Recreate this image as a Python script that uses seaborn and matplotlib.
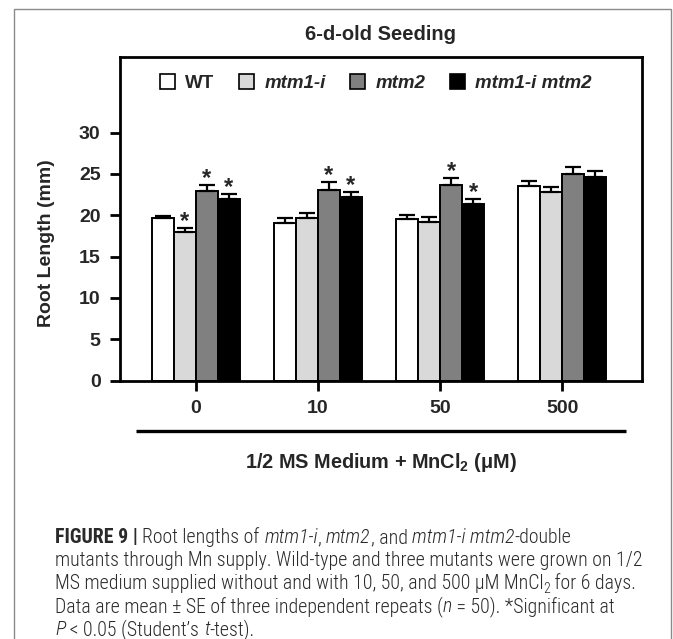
import matplotlib
matplotlib.use("Agg")
import matplotlib.pyplot as plt
import seaborn as sns
import pandas as pd
import numpy as np
from matplotlib import font_manager as fm
from matplotlib.patches import Patch, Rectangle
from matplotlib.lines import Line2D

# ---------------- data ----------------
concentrations = ["0", "10", "50", "500"]
genotypes = ["WT", "mtm1-i", "mtm2", "mtm1-i mtm2"]
wt_mean = [19.7, 19.1, 19.5, 23.5]
wt_se = [0.25, 0.6, 0.5, 0.6]
mtm1_mean = [18.0, 19.7, 19.2, 22.8]
mtm1_se = [0.4, 0.55, 0.6, 0.6]
mtm2_mean = [22.9, 23.1, 23.7, 25.0]
mtm2_se = [0.7, 0.9, 0.8, 0.8]
dbl_mean = [21.9, 22.2, 21.4, 24.6]
dbl_se = [0.7, 0.65, 0.5, 0.7]
wt_sig = [False, False, False, False]
mtm1_sig = [True, False, False, False]
mtm2_sig = [True, True, True, False]
dbl_sig = [True, True, True, False]
y_ticks = [0, 5, 10, 15, 20, 25, 30]
title = "6-d-old Seeding"
y_label = "Root Length (mm)"
x_label = r"1/2 MS Medium + MnCl$_\mathbf{2}$ (μM)"

means = [wt_mean, mtm1_mean, mtm2_mean, dbl_mean]
ses = [wt_se, mtm1_se, mtm2_se, dbl_se]
sigs = [wt_sig, mtm1_sig, mtm2_sig, dbl_sig]
colors = ["#ffffff", "#d9d9d9", "#808080", "#000000"]

rows = []
for g, m in zip(genotypes, means):
    for c, v in zip(concentrations, m):
        rows.append({"conc": c, "genotype": g, "length": v})
df = pd.DataFrame(rows)

# ---------------- style ----------------
sns.set_theme(style="white")
plt.rcParams["font.family"] = ["Liberation Sans", "DejaVu Sans"]
plt.rcParams["mathtext.fontset"] = "custom"
plt.rcParams["mathtext.bf"] = "Liberation Sans:bold"
plt.rcParams["mathtext.rm"] = "Liberation Sans"

_names = {f.name for f in fm.fontManager.ttflist}
NARROW = "Liberation Sans"
for _n in ["Liberation Sans Narrow", "Arial Narrow", "Roboto Condensed",
           "Open Sans Condensed", "Nimbus Sans Narrow"]:
    if _n in _names:
        NARROW = _n
        break

W, H = 673, 639
fig = plt.figure(figsize=(W / 100, H / 100), dpi=100)
fig.patch.set_facecolor("white")
renderer = fig.canvas.get_renderer()

ax_l, ax_r, ax_t, ax_b = 120, 641.7, 57.3, 380.5
ax = fig.add_axes([ax_l / W, 1 - ax_b / H, (ax_r - ax_l) / W, (ax_b - ax_t) / H])

sns.barplot(data=df, x="conc", y="length", hue="genotype",
            order=concentrations, hue_order=genotypes, palette=colors,
            edgecolor="black", linewidth=1.4, width=0.72, errorbar=None,
            saturation=1, legend=False, ax=ax)

for cont, se, sig in zip(ax.containers, ses, sigs):
    xs = [b.get_x() + b.get_width() / 2 for b in cont]
    hs = [b.get_height() for b in cont]
    ax.errorbar(xs, hs, yerr=[np.zeros(len(se)), se], fmt="none",
                ecolor="black", elinewidth=1.6, capsize=6, capthick=1.6, zorder=1)
    for x, h, e, s in zip(xs, hs, se, sig):
        if s:
            ax.annotate("*", xy=(x, h + e), xytext=(0, 0), textcoords="offset points",
                        ha="center", va="baseline", fontsize=17, fontweight="bold")

ax.set_xlim(-0.62, 3.65)
ax.set_ylim(0, 39.1)
ax.set_yticks(y_ticks)
ax.set_yticklabels([str(t) for t in y_ticks])
for s in ax.spines.values():
    s.set_visible(True)
    s.set_linewidth(2.0)
    s.set_color("black")
ax.tick_params(axis="both", direction="out", length=7, width=2.0, color="black",
               labelsize=14, pad=7, bottom=True, left=True)
for lab in ax.get_xticklabels() + ax.get_yticklabels():
    lab.set_fontweight("bold")

# axis labels
ax.set_ylabel(y_label, fontsize=14, fontweight="bold", va="center")
ax.yaxis.set_label_coords((47 - ax_l) / (ax_r - ax_l), (ax_b - 243) / (ax_b - ax_t))

ax.set_xlabel(x_label, fontsize=10, fontweight="bold", va="center")
ax.xaxis.set_label_coords(0.5, (ax_b - 462) / (ax_b - ax_t))
_w = ax.xaxis.label.get_window_extent(renderer).width
ax.xaxis.label.set_fontsize(10 * 272 / _w)

# decorative line under category labels
ax.add_line(Line2D([(136 - ax_l) / (ax_r - ax_l), (626 - ax_l) / (ax_r - ax_l)],
                   [(ax_b - 431) / (ax_b - ax_t)] * 2, transform=ax.transAxes,
                   color="black", lw=2.4, clip_on=False, solid_capstyle="butt"))

# legend
handles = [Patch(facecolor=c, edgecolor="black", linewidth=1.2) for c in colors]
leg = ax.legend(handles, genotypes, ncol=4, frameon=False, loc="center",
                bbox_to_anchor=(0.49, (ax_b - 83) / (ax_b - ax_t)),
                fontsize=13.5, handlelength=0.8, handleheight=0.8,
                handletextpad=0.55, columnspacing=1.3, borderaxespad=0)
for i, t in enumerate(leg.get_texts()):
    t.set_fontweight("bold")
    if i > 0:
        t.set_fontstyle("italic")

fig.text((ax_l + ax_r) / 2 / W, 1 - 35 / H, title, ha="center", va="center",
         fontsize=14.5, fontweight="bold")

# border of the figure panel
fig.add_artist(Rectangle((14 / W, -0.2), (670.5 - 14) / W, 1.2 - 9 / H,
                         transform=fig.transFigure, fill=False,
                         edgecolor="#8a8a8a", lw=1.0))

# ---------------- caption ----------------
CAP_FONT = [NARROW, "Liberation Sans", "DejaVu Sans"]
CAP_COLOR = "#2a2a2a"
CAP_WEIGHT = "light"


def advance(txt, size, **kw):
    t1 = fig.text(0, 0, txt + "|", family=CAP_FONT, fontsize=size, **kw)
    t2 = fig.text(0, 0, "|", family=CAP_FONT, fontsize=size, **kw)
    w = t1.get_window_extent(renderer).width - t2.get_window_extent(renderer).width
    t1.remove()
    t2.remove()
    return w


caption = [
    [("FIGURE 9 | ", "b"), ("Root lengths of ", ""), ("mtm1-i", "i"), (", ", ""),
     ("mtm2", "i"), (", and ", ""), ("mtm1-i mtm2", "i"), ("-double", "")],
    [("mutants through Mn supply. Wild-type and three mutants were grown on 1/2", "")],
    [("MS medium supplied without and with 10, 50, and 500 μM MnCl", ""), ("2", "s"),
     (" for 6 days.", "")],
    [("Data are mean ± SE of three independent repeats (", ""), ("n", "i"),
     (" = 50). *Significant at", "")],
    [("P", "i"), (" < 0.05 (Student’s ", ""), ("t", "i"), ("-test).", "")],
]

# fit the caption size so that the second line spans the measured width
CAP_X0, CAP_X1 = 55, 640
CAP_SIZE = 10 * (CAP_X1 - CAP_X0) / advance(caption[1][0][0], 10, fontweight=CAP_WEIGHT)


def draw_runs(x0, y0, runs):
    x = x0
    for txt, style in runs:
        kw = {"fontweight": CAP_WEIGHT}
        size = CAP_SIZE
        dy = 0
        if "b" in style:
            kw["fontweight"] = "bold"
        if "i" in style:
            kw["fontstyle"] = "italic"
        if "s" in style:
            size = CAP_SIZE * 0.7
            dy = 4
        fig.text(x / W, 1 - (y0 + dy) / H, txt, ha="left", va="baseline",
                 family=CAP_FONT, fontsize=size, color=CAP_COLOR, **kw)
        x += advance(txt, size, **kw)


for k, runs in enumerate(caption):
    draw_runs(CAP_X0, 543 + 23 * k, runs)

fig.savefig("out.png", dpi=100, facecolor="white")
